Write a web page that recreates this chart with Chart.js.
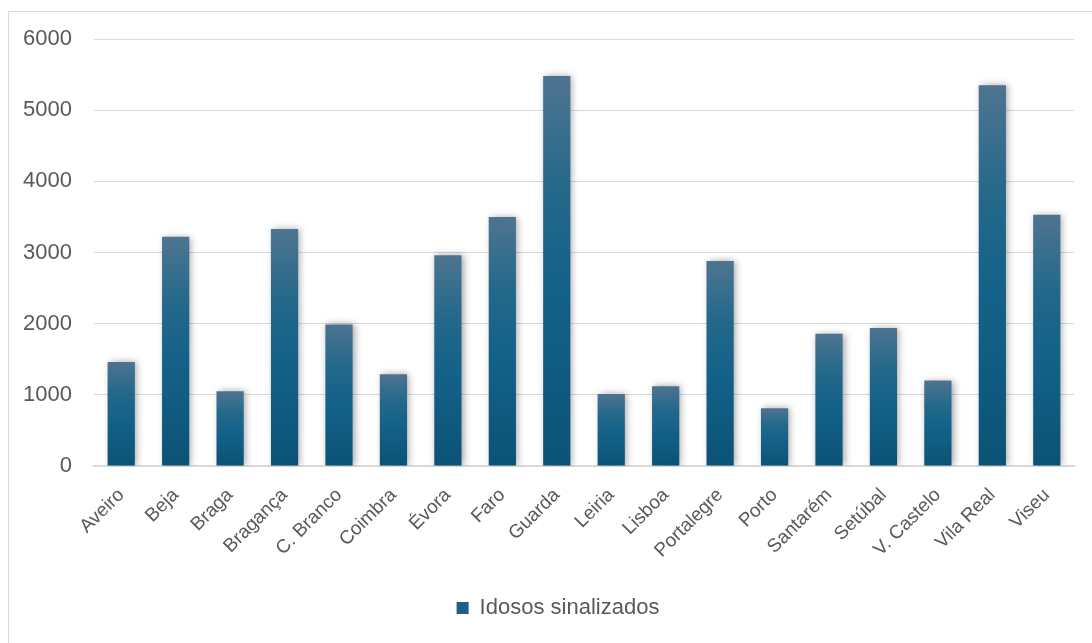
<!DOCTYPE html>
<html>
<head>
<meta charset="utf-8">
<script src="https://cdn.jsdelivr.net/npm/chart.js@4.4.1/dist/chart.umd.min.js"></script>
<style>
  html, body { margin: 0; padding: 0; background: #fff; }
  #frame { position: absolute; left: 8px; top: 11px; width: 1100px; height: 650px; border: 1px solid #d9d9d9; }
  #wrap { position: absolute; left: 0; top: 0; width: 1092px; height: 643px; }
</style>
</head>
<body>
<div id="frame"></div>
<div id="wrap"><canvas id="chart"></canvas></div>
<script>
const districts = ['Aveiro', 'Beja', 'Braga', 'Bragança', 'C. Branco', 'Coimbra', 'Évora', 'Faro', 'Guarda',
    'Leiria', 'Lisboa', 'Portalegre', 'Porto', 'Santarém', 'Setúbal', 'V. Castelo', 'Vila Real', 'Viseu'];
const idososSinalizados = [1460, 3220, 1050, 3330, 1990, 1290, 2960, 3500, 5480,
    1010, 1120, 2880, 810, 1860, 1940, 1200, 5350, 3530];
const seriesName = 'Idosos sinalizados';
const yTicks = [0, 1000, 2000, 3000, 4000, 5000, 6000];

const ctx = document.getElementById('chart').getContext('2d');

function barGradient(context) {
    const chart = context.chart;
    const y = chart.scales.y;
    if (!chart.chartArea || !y || context.dataIndex === undefined) return '#185f85';
    const top = y.getPixelForValue(context.raw);
    const base = y.getPixelForValue(0);
    const g = chart.ctx.createLinearGradient(0, top, 0, base);
    g.addColorStop(0, '#4e7491');
    g.addColorStop(0.3, '#23688a');
    g.addColorStop(0.55, '#146189');
    g.addColorStop(1, '#0b5376');
    return g;
}

const shadowPlugin = {
    id: 'barShadow',
    afterUpdate(chart) {
        // legend sits a bit right of centre in the original
        if (chart.legend) {
            chart.legend.left += 21;
            chart.legend.right += 21;
        }
    },
    beforeDatasetsDraw(chart) {
        const c = chart.ctx;
        c.save();
        c.shadowColor = 'rgba(0,0,0,0.35)';
        c.shadowBlur = 7;
        c.shadowOffsetX = 2;
        c.shadowOffsetY = 0;
    },
    afterDatasetsDraw(chart) {
        chart.ctx.restore();
    }
};

new Chart(ctx, {
    type: 'bar',
    data: {
        labels: districts,
        datasets: [{
            label: seriesName,
            data: idososSinalizados,
            backgroundColor: barGradient,
            borderWidth: 0,
            categoryPercentage: 1,
            barPercentage: 0.5
        }]
    },
    plugins: [shadowPlugin],
    options: {
        responsive: true,
        maintainAspectRatio: false,
        animation: false,
        layout: { padding: { left: 0, right: 18, top: 39, bottom: 14 } },
        scales: {
            x: {
                grid: { display: false, drawTicks: false },
                border: { color: '#d9d9d9', width: 2 },
                afterFit(scale) { scale.height = 115; },
                ticks: {
                    color: '#595959',
                    font: { family: 'Liberation Sans', size: 19 },
                    maxRotation: 45,
                    minRotation: 45,
                    padding: 18,
                    autoSkip: false
                }
            },
            y: {
                min: 0,
                max: 6000,
                afterBuildTicks(scale) { scale.ticks = yTicks.map(v => ({ value: v })); },
                afterFit(scale) { scale.width = 94; },
                grid: { color: '#d9d9d9', drawTicks: false },
                border: { display: false },
                ticks: {
                    color: '#595959',
                    font: { family: 'Liberation Sans', size: 22 },
                    padding: 22,
                    callback: v => String(v)
                }
            }
        },
        plugins: {
            legend: {
                position: 'bottom',
                labels: {
                    color: '#595959',
                    font: { family: 'Liberation Sans', size: 22 },
                    boxWidth: 12,
                    boxHeight: 12,
                    padding: 16,
                    generateLabels(chart) {
                        return [{ text: seriesName, fillStyle: '#1a5f85', strokeStyle: '#1a5f85', lineWidth: 0, fontColor: '#595959', datasetIndex: 0 }];
                    }
                }
            },
            tooltip: { enabled: false }
        }
    }
});
</script>
</body>
</html>
